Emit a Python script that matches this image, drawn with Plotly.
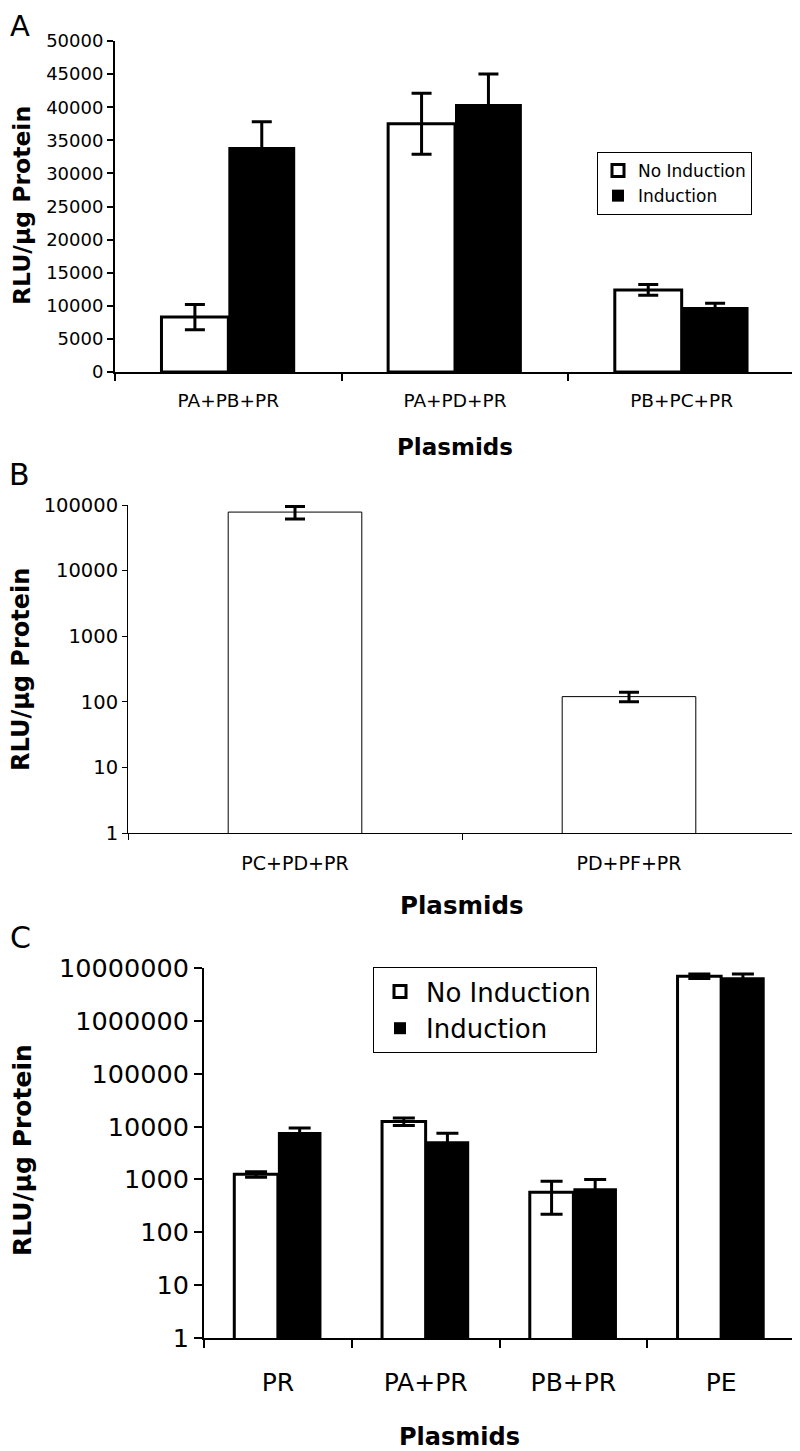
import plotly.graph_objects as go

FONT = "DejaVu Sans, Liberation Sans, Arial, sans-serif"
W, H = 800, 1451
OFF = 8  # the page body adds an 8 px margin around the figure

# Panel A - linear scale
a_plasmids = ["PA+PB+PR", "PA+PD+PR", "PB+PC+PR"]
a_no_ind = [8300, 37500, 12400]
a_no_ind_err = [1900, 4600, 800]
a_ind = [34000, 40500, 9800]
a_ind_err = [3800, 4500, 600]

# Panel B - log scale, single series
b_plasmids = ["PC+PD+PR", "PD+PF+PR"]
b_values = [78000, 120]
b_err = [17000, 20]

# Panel C - log scale
c_plasmids = ["PR", "PA+PR", "PB+PR", "PE"]
c_no_ind = [1250, 12500, 570, 7000000]
c_no_ind_err = [150, 2000, 350, 700000]
c_ind = [7900, 5300, 680, 6700000]
c_ind_err = [1500, 2200, 320, 1000000]


def px_x(x):
    return (x - OFF) / W


def px_y(y):
    return 1 - (y - OFF) / H


def bar(x, y, err, name, color, lw, xa, ya, legend, group, cap):
    return go.Bar(
        x=x, y=y, name=name,
        marker=dict(color=color, line=dict(color="black", width=lw)),
        error_y=dict(type="data", array=err, color="black", thickness=3, width=cap),
        xaxis=xa, yaxis=ya, legend=legend, showlegend=True,
        legendgroup=group,
    )


fig = go.Figure()
fig.add_trace(bar(a_plasmids, a_no_ind, a_no_ind_err, "No Induction", "white", 3,
                  "x", "y", "legend", "a1", 10))
fig.add_trace(bar(a_plasmids, a_ind, a_ind_err, "Induction", "black", 0,
                  "x", "y", "legend", "a2", 10))
fig.add_trace(go.Bar(
    x=b_plasmids, y=b_values, width=0.4, showlegend=False,
    marker=dict(color="white", line=dict(color="black", width=1)),
    error_y=dict(type="data", array=b_err, color="black", thickness=3, width=10),
    xaxis="x2", yaxis="y2",
))
fig.add_trace(bar(c_plasmids, c_no_ind, c_no_ind_err, "No Induction", "white", 3,
                  "x3", "y3", "legend2", "c1", 11))
fig.add_trace(bar(c_plasmids, c_ind, c_ind_err, "Induction", "black", 0,
                  "x3", "y3", "legend2", "c2", 11))


def xaxis(dom, anchor, size, lw, tlen, standoff):
    return dict(domain=dom, anchor=anchor, type="category", tickson="boundaries",
                ticks="outside", ticklen=tlen, tickwidth=lw, tickcolor="black",
                showline=True, linewidth=lw, linecolor="black", showgrid=False,
                zeroline=False, tickfont=dict(size=size, color="black"),
                ticklabelstandoff=standoff, automargin=False, fixedrange=True)


def yaxis(dom, anchor, size, lw, tlen, **kw):
    return dict(domain=dom, anchor=anchor, ticks="outside", ticklen=tlen,
                tickwidth=lw, tickcolor="black", showline=True, linewidth=lw,
                linecolor="black", showgrid=False, zeroline=False,
                tickfont=dict(size=size, color="black"), tickformat="d",
                exponentformat="none", automargin=False, **kw)


fig.update_layout(
    width=W, height=H,
    margin=dict(l=0, r=0, t=0, b=0, autoexpand=False),
    paper_bgcolor="white", plot_bgcolor="white",
    font=dict(family=FONT, color="black"),
    barmode="group", bargap=0.41, bargroupgap=0,
    xaxis=xaxis([px_x(115), px_x(795)], "y", 18.5, 2, 7, 11),
    yaxis=yaxis([px_y(372), px_y(41)], "x", 18, 2, 6, range=[0, 50000], dtick=5000),
    xaxis2=xaxis([px_x(128), px_x(796)], "y2", 19, 1, 6, 13),
    yaxis2=yaxis([px_y(833), px_y(505)], "x2", 19.5, 1, 5, type="log", range=[0, 5], dtick=1),
    xaxis3=xaxis([px_x(204), px_x(795)], "y3", 25, 2, 8, 21),
    yaxis3=yaxis([px_y(1338), px_y(968)], "x3", 25.5, 2, 8, type="log", range=[0, 7], dtick=1),
    legend=dict(x=px_x(597), y=px_y(152), xanchor="left", yanchor="top",
                bgcolor="white", bordercolor="black", borderwidth=1,
                font=dict(size=17), tracegroupgap=12, traceorder="normal"),
    legend2=dict(x=px_x(373), y=px_y(967), xanchor="left", yanchor="top",
                 bgcolor="white", bordercolor="black", borderwidth=1,
                 font=dict(size=26), tracegroupgap=0, traceorder="normal",
                 itemwidth=42),
)

annos = [
    # text, x, y, size, bold, angle, yanchor
    ("A", 20, OFF, 29, False, 0, "top"),
    ("B", 19, 474, 30, False, 0, "middle"),
    ("C", 20, 937, 30, False, 0, "middle"),
    ("Plasmids", 455, 447, 23, True, 0, "middle"),
    ("Plasmids", 462, 905, 24.5, True, 0, "middle"),
    ("Plasmids", 460, 1437, 24, True, 0, "middle"),
    ("RLU/μg Protein", 22, 206, 23.5, True, -90, "middle"),
    ("RLU/μg Protein", 21, 670, 24, True, -90, "middle"),
    ("RLU/μg Protein", 22, 1150, 25, True, -90, "middle"),
]
for text, x, y, size, bold, angle, yanchor in annos:
    fig.add_annotation(
        text=f"<b>{text}</b>" if bold else text,
        x=px_x(x), y=px_y(y), xref="paper", yref="paper",
        xanchor="center", yanchor=yanchor, showarrow=False, borderpad=0,
        textangle=angle, font=dict(size=size, color="black"),
    )

fig.write_html("out.html")
